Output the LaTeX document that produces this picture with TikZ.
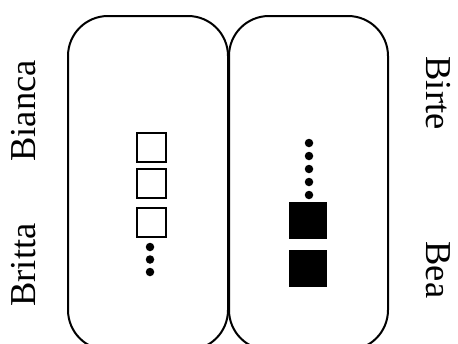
\documentclass[tikz,border=0pt]{standalone}
\usepackage{fontspec}
\setmainfont{Liberation Serif}
\begin{document}
\begin{tikzpicture}[x=1pt,y=-1pt,
  panel/.style={draw,line width=2pt,rounded corners=40pt,minimum width=160pt,minimum height=334pt,inner sep=0pt},
  opensq/.style={draw,line width=2pt,minimum size=29pt,inner sep=0pt},
  fullsq/.style={fill=black,minimum width=38pt,minimum height=37pt,inner sep=0pt},
  dot/.style={circle,fill=black,minimum size=8.5pt,inner sep=0pt},
  lbl/.style={font=\fontsize{36.5}{40}\selectfont,inner sep=0pt}]
\useasboundingbox (0,0) rectangle (458,343);
\clip (0,0) rectangle (458,343);
\node[panel] (L) at (148,183) {};
\node[panel,minimum width=159pt] (R) at (308.5,183) {};
\node[opensq] (s1) at (151,147) {};
\node[opensq] (s2) at (151,183.5) {};
\node[opensq] (s3) at (151,222) {};
\node[dot] (d1) at (150,247) {};
\node[dot] (d2) at (150,259.5) {};
\node[dot] (d3) at (150,272) {};
\node[dot] (e1) at (309,143) {};
\node[dot] (e2) at (309,156) {};
\node[dot] (e3) at (309,169) {};
\node[dot] (e4) at (309,182) {};
\node[dot] (e5) at (309,195) {};
\node[fullsq] (f1) at (308,220.5) {};
\node[fullsq] (f2) at (308,268) {};
\node[lbl,rotate=90] (bianca) at (24,111) {Bianca};
\node[lbl,rotate=90] (britta) at (24,265) {Britta};
\node[lbl,rotate=-90] (birte) at (438,93) {Birte};
\node[lbl,rotate=-90] (bea) at (438,270) {Bea};
\end{tikzpicture}
\end{document}
